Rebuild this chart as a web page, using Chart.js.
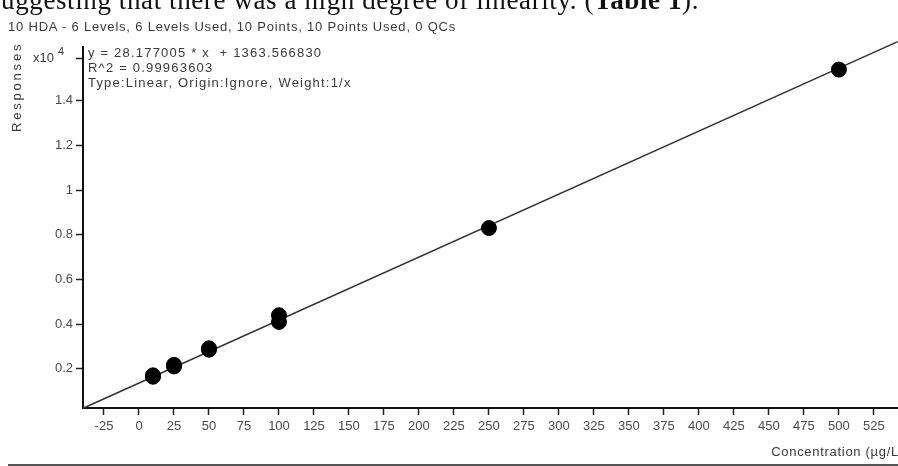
<!DOCTYPE html>
<html>
<head>
<meta charset="utf-8">
<script src="https://cdn.jsdelivr.net/npm/chart.js@4/dist/chart.umd.min.js"></script>
<style>
    html, body { margin: 0; padding: 0; background: #fff; }
    #wrap { position: relative; width: 898px; height: 466px; overflow: hidden; }
    #calibrationChart { position: absolute; left: 0; top: 0; }
    .txt { position: absolute; font-family: "Liberation Sans", Arial, sans-serif; color: #3a3a3a; white-space: nowrap; }
</style>
</head>
<body>
<div id="wrap">
    <canvas id="calibrationChart" width="909" height="466"></canvas>
    <div class="txt" style="left:-10px; top:-13px; font-family:'Liberation Serif', serif; font-size:27px; line-height:26px; letter-spacing:0.6px; color:#111;">suggesting that there was a high degree of linearity. (<b>Table 1</b>).</div>
    <div class="txt" id="chartTitle" style="left:8px; top:20px; font-size:13px; line-height:14px; letter-spacing:0.8px;"></div>
    <div class="txt" style="left:-28px; top:80px; width:90px; height:14px; text-align:center; font-size:13px; line-height:14px; letter-spacing:2.8px; transform:rotate(-90deg); transform-origin:center;">Responses</div>
    <div class="txt" style="left:33px; top:51px; font-size:13px; line-height:14px;">x10<span style="position:relative; top:-7px; margin-left:4px; font-size:11px;">4</span></div>
    <div class="txt" id="fitText" style="left:88px; top:45px; font-size:13px; line-height:15px; letter-spacing:1.2px;"></div>
    <div class="txt" style="right:-6px; top:445px; font-size:13px; line-height:14px; letter-spacing:0.7px;">Concentration (µg/L)</div>
    <div style="position:absolute; left:8px; right:0; top:464px; height:2px; background:#555;"></div>
</div>
<script>
const chartTitle = '10 HDA - 6 Levels, 6 Levels Used, 10 Points, 10 Points Used, 0 QCs'
const fitLines = ['y = 28.177005 * x  + 1363.566830', 'R^2 = 0.99963603', 'Type:Linear, Origin:Ignore, Weight:1/x']

// calibration standards (µg/L) and their responses
const concentrations = [10, 10, 25, 25, 50, 50, 100, 100, 250, 500]
const responses = [1650, 1710, 2110, 2180, 2860, 2920, 4100, 4400, 8300, 15390]

// regression line end points
const fitX = [-40, 542]
const fitY = [240, 16640]

const xTickValues = [-25, 0, 25, 50, 75, 100, 125, 150, 175, 200, 225, 250, 275, 300, 325, 350, 375, 400, 425, 450, 475, 500, 525]
const yTickValues = [2000, 4000, 6000, 8000, 10000, 12000, 14000]
const exponentTick = 15900
const yAxisTop = 16400

document.getElementById('chartTitle').textContent = chartTitle
document.getElementById('fitText').innerHTML = fitLines.map(l => l.replace(/ /g, '&nbsp;')).join('<br>')

const tickFont = { family: 'Liberation Sans', size: 13 }

const ctx = document.getElementById('calibrationChart').getContext('2d')
new Chart(ctx, {
    type: 'scatter',
    data: {
        datasets: [
            {
                label: 'Fit',
                type: 'line',
                data: fitX.map((x, i) => ({ x, y: fitY[i] })),
                borderColor: '#333',
                borderWidth: 1.6,
                pointRadius: 0,
                clip: false,
                order: 2
            },
            {
                label: 'Standards',
                data: concentrations.map((x, i) => ({ x, y: responses[i] })),
                backgroundColor: '#000',
                borderColor: '#000',
                pointRadius: 7.5,
                order: 1
            }
        ]
    },
    options: {
        responsive: false,
        animation: false,
        layout: { padding: { top: 47, right: 0, left: 0, bottom: 0 } },
        plugins: { legend: { display: false }, tooltip: { enabled: false } },
        scales: {
            x: {
                type: 'linear',
                min: -40,
                max: 544,
                afterBuildTicks: scale => { scale.ticks = xTickValues.map(value => ({ value })) },
                afterFit: scale => {
                    scale.height = 58
                    scale.paddingLeft = 0
                    scale.paddingRight = 0
                },
                border: { color: '#111', width: 2 },
                grid: { drawOnChartArea: false, drawTicks: true, tickLength: 7, color: '#222', tickWidth: 1.5 },
                ticks: { autoSkip: false, maxRotation: 0, padding: 4, color: '#4a4a4a', font: tickFont }
            },
            y: {
                type: 'linear',
                min: 250,
                max: yAxisTop,
                afterBuildTicks: scale => { scale.ticks = yTickValues.concat([exponentTick]).map(value => ({ value })) },
                afterFit: scale => {
                    scale.width = 83
                    scale.paddingTop = 0
                    scale.paddingBottom = 0
                },
                border: { color: '#111', width: 2 },
                grid: { drawOnChartArea: false, drawTicks: true, tickLength: 7, color: '#222', tickWidth: 1.5 },
                ticks: {
                    autoSkip: false,
                    padding: 3,
                    color: '#4a4a4a',
                    font: tickFont,
                    callback: value => value === exponentTick ? '' : String(+(value / 10000).toFixed(1))
                }
            }
        }
    }
})
</script>
</body>
</html>
